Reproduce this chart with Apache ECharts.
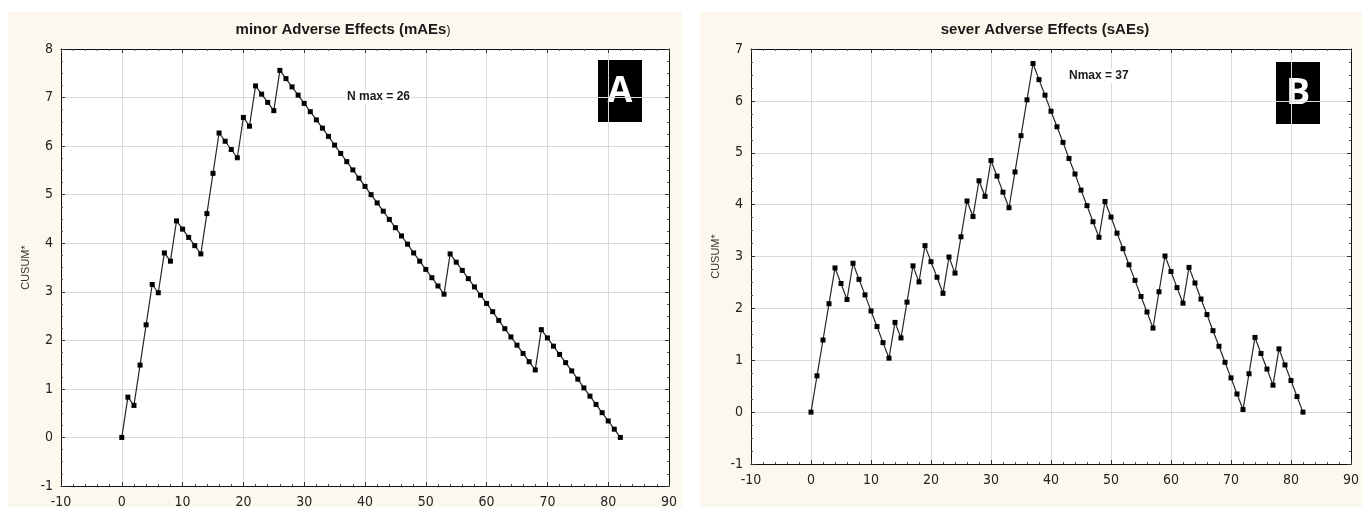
<!DOCTYPE html>
<html>
<head>
<meta charset="utf-8">
<script src="https://cdn.jsdelivr.net/npm/echarts@6/dist/echarts.min.js"></script>
<style>
html,body{margin:0;padding:0;background:#ffffff;}
#c{width:1362px;height:510px;}
</style>
</head>
<body>
<div id="c"></div>
<script>
// ---- data ----
const titleA = 'minor Adverse Effects (mAEs';
const titleB = 'sever Adverse Effects (sAEs)';
const noteA = 'N max = 26';
const noteB = 'Nmax = 37';
const yName = 'CUSUM*';
const xTicks = [-10, 0, 10, 20, 30, 40, 50, 60, 70, 80, 90];
const yTicksA = [-1, 0, 1, 2, 3, 4, 5, 6, 7, 8];
const yTicksB = [-1, 0, 1, 2, 3, 4, 5, 6, 7];

// CUSUM values, case 0..82
const cusumA = [
  0.00, 0.83, 0.66, 1.49, 2.32, 3.15, 2.98, 3.80, 3.63, 4.46,
  4.29, 4.12, 3.95, 3.78, 4.61, 5.44, 6.27, 6.10, 5.93, 5.76,
  6.59, 6.41, 7.24, 7.07, 6.90, 6.73, 7.56, 7.39, 7.22, 7.05,
  6.88, 6.71, 6.54, 6.37, 6.20, 6.02, 5.85, 5.68, 5.51, 5.34,
  5.17, 5.00, 4.83, 4.66, 4.49, 4.32, 4.15, 3.98, 3.80, 3.63,
  3.46, 3.29, 3.12, 2.95, 3.78, 3.61, 3.44, 3.27, 3.10, 2.93,
  2.76, 2.59, 2.41, 2.24, 2.07, 1.90, 1.73, 1.56, 1.39, 2.22,
  2.05, 1.88, 1.71, 1.54, 1.37, 1.20, 1.02, 0.85, 0.68, 0.51,
  0.34, 0.17, 0.00
];
const cusumB = [
  0.00, 0.70, 1.39, 2.09, 2.78, 2.48, 2.17, 2.87, 2.56, 2.26,
  1.95, 1.65, 1.34, 1.04, 1.73, 1.43, 2.12, 2.82, 2.51, 3.21,
  2.90, 2.60, 2.29, 2.99, 2.68, 3.38, 4.07, 3.77, 4.46, 4.16,
  4.85, 4.55, 4.24, 3.94, 4.63, 5.33, 6.02, 6.72, 6.41, 6.11,
  5.80, 5.50, 5.20, 4.89, 4.59, 4.28, 3.98, 3.67, 3.37, 4.06,
  3.76, 3.45, 3.15, 2.84, 2.54, 2.23, 1.93, 1.62, 2.32, 3.01,
  2.71, 2.40, 2.10, 2.79, 2.49, 2.18, 1.88, 1.57, 1.27, 0.96,
  0.66, 0.35, 0.05, 0.74, 1.44, 1.13, 0.83, 0.52, 1.22, 0.91,
  0.61, 0.30, 0.00
];

// ---- chart ----
const narrow = '"DejaVu Sans Condensed","Liberation Sans Narrow","Arial Narrow","Liberation Sans",Arial,sans-serif';
const sans = '"Liberation Sans",Arial,sans-serif';
const gridColor = '#dadada';
const ink = '#222222';

function toPoints(arr){ return arr.map((v, i) => [i, v]); }

function baseAxis(gi, ticks, pos){
  const min = ticks[0], max = ticks[ticks.length - 1], step = ticks[1] - ticks[0];
  const vertical = pos === 'left' || pos === 'right';
  return { type:'value', gridIndex:gi, position:pos, min, max, interval:step,
    axisLine:{show:true, onZero:false, lineStyle:{color:'#111', width:1}},
    axisTick:{show:true, inside:true, length:4, lineStyle:{color:'#333'}},
    minorTick:{show:true, splitNumber: vertical ? 4 : 5, length:2, lineStyle:{color:'#555'}},
    axisLabel:{show:false}, splitLine:{show:false} };
}
function xAxisPair(gi, ticks){
  const bottom = baseAxis(gi, ticks, 'bottom');
  bottom.axisLabel = {show:true, color:ink, fontSize:14, fontFamily:narrow, margin:9};
  bottom.splitLine = {show:true, lineStyle:{color:gridColor, width:1}};
  return [bottom, baseAxis(gi, ticks, 'top')];
}
function yAxisPair(gi, ticks, gap){
  const left = baseAxis(gi, ticks, 'left');
  left.axisLabel = {show:true, color:ink, fontSize:14, fontFamily:narrow, margin:8};
  left.splitLine = {show:true, lineStyle:{color:gridColor, width:1}};
  left.name = yName; left.nameLocation = 'middle'; left.nameGap = gap; left.nameRotate = 90;
  left.nameTextStyle = {color:'#333', fontSize:11, fontFamily:sans};
  return [left, baseAxis(gi, ticks, 'right')];
}

const lineSeries = (xi, yi, data) => ({
  type:'line', xAxisIndex:xi, yAxisIndex:yi, data:toPoints(data),
  symbol:'rect', symbolSize:5, showSymbol:true,
  lineStyle:{color:'#262626', width:1.2},
  itemStyle:{color:'#000'},
  animation:false, silent:true
});

const chart = echarts.init(document.getElementById('c'), null, {renderer:'canvas'});
chart.setOption({
  backgroundColor:'#ffffff',
  animation:false,
  title:[
    { text:'{b|' + titleA + '}{n|)}', left:338, top:17, textAlign:'center',
      textStyle:{rich:{
        b:{fontFamily:sans, fontWeight:'bold', fontSize:15, color:'#1a1a1a'},
        n:{fontFamily:sans, fontWeight:'normal', fontSize:12, color:'#1a1a1a', verticalAlign:'bottom'}
      }} },
    { text:titleB, left:1040, top:17, textAlign:'center',
      textStyle:{fontFamily:sans, fontWeight:'bold', fontSize:15, color:'#1a1a1a'} }
  ],
  grid:[
    {left:61, top:49, width:608, height:437, show:true, backgroundColor:'#ffffff', borderWidth:0},
    {left:751, top:49, width:610, height:415, show:true, backgroundColor:'#ffffff', borderWidth:0}
  ],
  xAxis:[...xAxisPair(0, xTicks), ...xAxisPair(1, xTicks)],
  yAxis:[...yAxisPair(0, yTicksA, 30), ...yAxisPair(1, yTicksB, 30)],
  graphic:[
    {type:'rect', z:-10, shape:{x:8, y:12, width:674, height:495}, style:{fill:'#fcf8ee'}, silent:true},
    {type:'rect', z:-10, shape:{x:700, y:12, width:662, height:495}, style:{fill:'#fcf8ee'}, silent:true},
    {type:'text', left:346, top:90, z:100, style:{text:noteA, fill:'#1a1a1a', backgroundColor:'#ffffff', padding:[1,1], font:'bold 12px "Liberation Sans",Arial,sans-serif'}},
    {type:'text', left:1068, top:69, z:100, style:{text:noteB, fill:'#1a1a1a', backgroundColor:'#ffffff', padding:[1,1], font:'bold 12px "Liberation Sans",Arial,sans-serif'}},
    {type:'group', left:598, top:60, z:100, children:[
      {type:'rect', shape:{x:0, y:0, width:44, height:62}, style:{fill:'#000'}},
      {type:'text', x:22, y:32, style:{text:'A', fill:'#fff', align:'center', verticalAlign:'middle', font:'bold 36px "Open Sans","Noto Sans",sans-serif'}}
    ]},
    {type:'group', left:1276, top:62, z:100, children:[
      {type:'rect', shape:{x:0, y:0, width:44, height:62}, style:{fill:'#000'}},
      {type:'text', x:22, y:32, style:{text:'B', fill:'#fff', align:'center', verticalAlign:'middle', font:'bold 36px "Open Sans","Noto Sans",sans-serif'}}
    ]}
  ],
  series:[
    lineSeries(0, 0, cusumA),
    lineSeries(2, 2, cusumB)
  ]
});
</script>
</body>
</html>
